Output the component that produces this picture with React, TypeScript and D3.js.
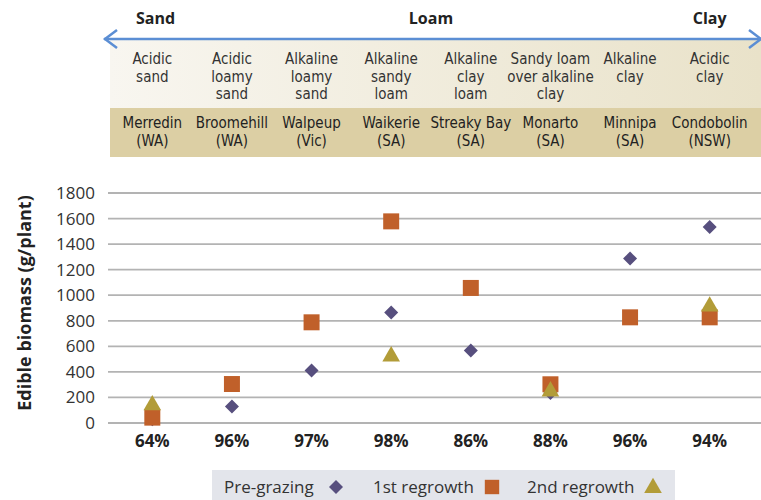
import * as d3 from "d3";

const SITES = ["Merredin\n(WA)", "Broomehill\n(WA)", "Walpeup\n(Vic)", "Waikerie\n(SA)", "Streaky Bay\n(SA)", "Monarto\n(SA)", "Minnipa\n(SA)", "Condobolin\n(NSW)"];
const SOILS = ["Acidic\nsand", "Acidic\nloamy\nsand", "Alkaline\nloamy\nsand", "Alkaline\nsandy\nloam", "Alkaline\nclay\nloam", "Sandy loam\nover alkaline\nclay", "Alkaline\nclay", "Acidic\nclay"];
const X_LABELS = ["64%", "96%", "97%", "98%", "86%", "88%", "96%", "94%"];
const TEXTURES = [
  { label: "Sand", at: 0.04 },
  { label: "Loam", at: 3.5 },
  { label: "Clay", at: 7 },
];

const PRE_GRAZING = [30, 130, 410, 865, 567, 235, 1287, 1534];
const FIRST_REGROWTH = [42, 305, 788, 1578, 1057, 303, 827, 827];
const SECOND_REGROWTH: (number | null)[] = [139, null, null, 522, null, 248, null, 913];
const Y_TICKS = [0, 200, 400, 600, 800, 1000, 1200, 1400, 1600, 1800];
const LEGEND = [
  { label: "Pre-grazing", tx: 224, mx: 336 },
  { label: "1st regrowth", tx: 373, mx: 492 },
  { label: "2nd regrowth", tx: 527, mx: 653 },
];

const C_DIAMOND = "#574f7e";
const C_SQUARE = "#c0602a";
const C_TRIANGLE = "#b29c38";

const W = 761;
const H = 500;
const HEAD_FONT = "'Liberation Sans Narrow', 'DejaVu Sans Condensed', sans-serif";
const BODY_FONT = "'Open Sans', 'Noto Sans', sans-serif";

const x = d3.scalePoint<number>().domain(d3.range(8)).range([112.5, 749.5]).padding(0.5);
const y = d3.scaleLinear().domain([0, 1800]).range([423, 193]);

const diamond = d3.symbol().type(d3.symbolDiamond2).size(125);
const square = d3.symbol().type(d3.symbolSquare).size(256);
const triangle = d3.symbol().type(d3.symbolTriangle).size(135);
const markers = [
  { d: diamond()!, fill: C_DIAMOND, s: 1 },
  { d: square()!, fill: C_SQUARE, s: 0.9 },
  { d: triangle()!, fill: C_TRIANGLE, s: 1 },
];

function Lines({ text, cx, y0, dy, ...rest }: any) {
  return (
    <text x={cx} textAnchor="middle" {...rest}>
      {text.split("\n").map((t: string, i: number) => (
        <tspan key={i} x={cx} y={y0 + i * dy}>{t}</tspan>
      ))}
    </text>
  );
}

export default function App() {
  const xAt = (i: number) => x(Math.floor(i))! + (i % 1) * x.step();
  return (
    <svg width={W} height={H} style={{ position: "absolute", left: 0, top: 0 }} fontFamily={BODY_FONT}>
      <defs>
        <linearGradient id="soilGrad" x1="0" x2="1" y1="0" y2="0">
          <stop offset="0" stopColor="#f8f6f0" />
          <stop offset="1" stopColor="#e9e2c9" />
        </linearGradient>
      </defs>

      {/* header panel */}
      <rect x={110} y={40} width={W - 110} height={68} fill="url(#soilGrad)" />
      <rect x={110} y={108} width={W - 110} height={49} fill="#dccfa4" />

      {TEXTURES.map((t) => (
        <text key={t.label} x={xAt(t.at)} y={24} textAnchor="middle" fontWeight="bold" fontSize={16} fill="#222">
          {t.label}
        </text>
      ))}

      {/* arrow */}
      <line x1={104} x2={W} y1={39} y2={39} stroke="#5b8ed4" strokeWidth={2.5} />
      <path d="M117,30 L105,39 L117,48" fill="none" stroke="#5b8ed4" strokeWidth={2.5} />
      <path d="M749,30 L761,39 L749,48" fill="none" stroke="#5b8ed4" strokeWidth={2.5} />

      {SOILS.map((s, i) => (
        <Lines key={s} text={s} cx={x(i)} y0={64} dy={17.5} fontFamily={HEAD_FONT} fontSize={15} fill="#333" />
      ))}
      {SITES.map((s, i) => (
        <Lines key={s} text={s} cx={x(i)} y0={128} dy={18} fontFamily={HEAD_FONT} fontSize={15} fill="#222" />
      ))}

      {/* grid */}
      {Y_TICKS.map((t) => (
        <g key={t}>
          <line x1={108} x2={W} y1={y(t)} y2={y(t)} stroke="#b3b3b3" strokeWidth={1.8} />
          <text x={95} y={y(t) + 6} textAnchor="end" fontSize={17} fill="#333">{t}</text>
        </g>
      ))}

      <text transform={`translate(31,${(193 + 423) / 2 - 5}) rotate(-90)`} textAnchor="middle" fontWeight="bold" fontSize={18} fill="#222">
        Edible biomass (g/plant)
      </text>

      {X_LABELS.map((l, i) => (
        <text key={i} x={x(i)} y={447} textAnchor="middle" fontWeight="bold" fontSize={17} fill="#222">{l}</text>
      ))}

      {/* points */}
      {PRE_GRAZING.map((v, i) => (
        <path key={"d" + i} d={markers[0].d} transform={`translate(${x(i)},${y(v)})`} fill={C_DIAMOND} />
      ))}
      {FIRST_REGROWTH.map((v, i) => (
        <path key={"s" + i} d={markers[1].d} transform={`translate(${x(i)},${y(v)})`} fill={C_SQUARE} />
      ))}
      {SECOND_REGROWTH.map((v, i) =>
        v == null ? null : (
          <path key={"t" + i} d={markers[2].d} transform={`translate(${x(i)},${y(v)})`} fill={C_TRIANGLE} />
        )
      )}

      {/* legend */}
      <rect x={212} y={470} width={463} height={30} fill="#e3e5eb" />
      {LEGEND.map((l, i) => (
        <g key={l.label}>
          <text x={l.tx} y={493} fontSize={17} fill="#333">{l.label}</text>
          <path d={markers[i].d} transform={`translate(${l.mx},${487 + (i === 2 ? 1 : 0)}) scale(${markers[i].s})`} fill={markers[i].fill} />
        </g>
      ))}
    </svg>
  );
}
